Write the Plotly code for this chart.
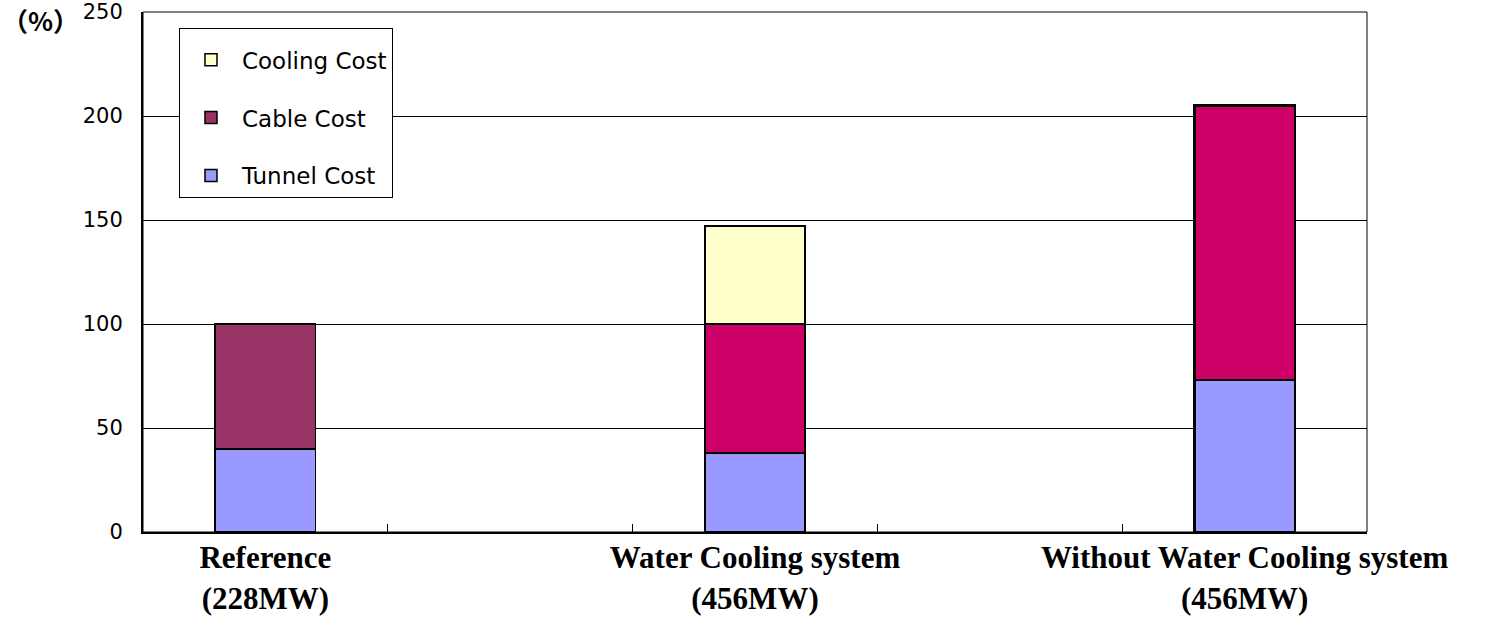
import plotly.graph_objects as go

# Cost breakdown relative to the 228MW reference line (%)
categories = [
    "Reference<br>(228MW)",
    " ",
    "Water Cooling system<br>(456MW)",
    "  ",
    "Without Water Cooling system<br>(456MW)",
]
bar_categories = [categories[0], categories[2], categories[4]]

tunnel_cost = [40, 38, 73]
cable_cost = [60, 62, 132]
cooling_cost = [None, 47, None]

y_ticks = [0, 50, 100, 150, 200, 250]

outline_w = [1.5, 2.5, 2.5]
bar_w = 0.41

fig = go.Figure()
fig.add_trace(go.Bar(
    x=bar_categories, y=tunnel_cost, name="Tunnel Cost", width=bar_w,
    marker=dict(color="#9999FF", line=dict(color="black", width=outline_w)),
    legendgroup="t", legendrank=3,
))
fig.add_trace(go.Bar(
    x=bar_categories, y=cable_cost, name="Cable Cost", width=bar_w,
    marker=dict(color=["#993366", "#CC0066", "#CC0066"],
                line=dict(color="black", width=outline_w)),
    legendgroup="c", legendrank=2,
))
fig.add_trace(go.Bar(
    x=bar_categories, y=cooling_cost, name="Cooling Cost", width=bar_w,
    marker=dict(color="#FFFFCC", line=dict(color="black", width=outline_w)),
    legendgroup="k", legendrank=1,
))

fig.update_layout(
    width=1489, height=617,
    margin=dict(l=143, r=122, t=12, b=85),
    barmode="stack",
    plot_bgcolor="white", paper_bgcolor="white",
    showlegend=True,
    legend=dict(
        x=0.0294, y=0.969, xanchor="left", yanchor="top",
        bgcolor="white", bordercolor="black", borderwidth=1,
        traceorder="grouped", tracegroupgap=25,
        itemwidth=52,
        title=dict(text=" ", font=dict(size=7)),
        font=dict(family="DejaVu Sans", size=23, color="black"),
        itemclick=False,
    ),
    xaxis=dict(
        type="category", categoryorder="array", categoryarray=categories,
        range=[-0.5, 4.5], automargin=False, tickangle=0,
        tickson="boundaries", ticks="inside", ticklen=8, tickcolor="black",
        showline=True, linecolor="black", linewidth=2,
        showgrid=False,
        tickfont=dict(family="Liberation Serif", size=31, color="black", weight="bold"),
        ticklabelstandoff=-3,
    ),
    yaxis=dict(
        range=[0, 250], tickvals=y_ticks, automargin=False,
        ticks="inside", ticklen=8, tickcolor="black",
        showline=True, linecolor="black", linewidth=2,
        showgrid=True, gridcolor="black", gridwidth=1,
        zeroline=False,
        tickfont=dict(family="DejaVu Sans", size=21, color="black"),
        ticklabelstandoff=14,
    ),
    shapes=[dict(type="rect", xref="paper", yref="paper", x0=0, y0=0, x1=1, y1=1,
                 line=dict(color="black", width=1), layer="above")],
    annotations=[dict(
        text="（%）", xref="paper", yref="paper", x=-0.084, y=0.985,
        xanchor="center", yanchor="middle", showarrow=False,
        font=dict(family="Noto Sans CJK JP", size=26, color="black", weight="bold"),
    )],
)

fig.write_html("out.html")
